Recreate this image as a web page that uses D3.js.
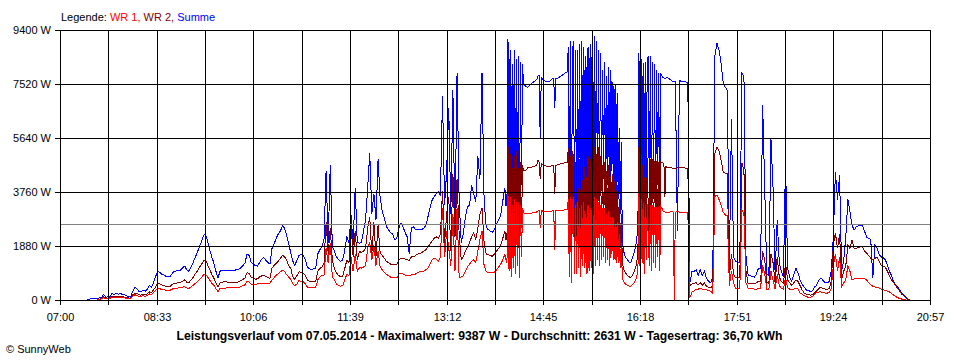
<!DOCTYPE html>
<html><head><meta charset="utf-8">
<script src="https://cdn.jsdelivr.net/npm/d3@7"></script>
<style>
html,body{margin:0;padding:0;background:#fff;}
svg{display:block;font-family:"Liberation Sans",Arial,sans-serif;}
</style></head><body>
<svg id="chart" width="960" height="360"></svg>
<script>
// ---- data ----
// 2-minute readings for the whole day
const startTime = "07:20";
const stepMinutes = 2;
const summe = [
0,0,0,0,20,50,50,60,60,70,
80,200,90,110,120,220,200,230,200,220,
200,180,150,100,110,300,450,380,300,280,
350,300,380,500,450,600,820,1010,960,900,
870,820,800,820,930,1000,1010,1040,1040,1120,
1180,1050,1000,1150,1290,1480,1640,1850,2000,2250,
2300,2050,1750,1500,1290,1000,780,1000,1040,1040,
1040,1040,1040,1040,1040,1050,1080,1120,1200,1300,
1600,1550,1300,1250,1200,1180,1300,1420,1480,1380,
1300,1250,1800,1950,2150,2300,2400,2580,2500,2250,
1950,1650,1350,1200,1400,1550,1600,1550,1400,1150,
1080,1070,1080,1100,1600,1750,1850,2100,4500,2000,
4700,1850,1700,1500,1400,1350,1400,1750,2200,2000,
2950,1900,3900,2000,1980,2000,2400,2780,3900,5100,
3000,3700,2800,4900,3550,3100,2850,2550,2450,2350,
2300,2100,2150,2500,2680,2550,2350,2200,1600,2500,
2550,2450,2450,2450,2450,2500,2600,2900,3200,3480,
3600,3700,3760,3650,7100,3300,4500,6700,3000,7300,
2600,7900,3500,2000,2300,2900,3250,3300,4000,3700,
3400,5000,4200,7900,3500,2540,2450,2400,2350,2450,
2650,2800,2950,3450,3900,3300,9100,1900,8700,2200,
8500,1700,8300,7500,7450,7400,7500,7550,7600,7650,
7800,5600,7700,7650,7600,7600,7650,7700,6700,7700,
7750,7800,7850,7900,7950,8800,1500,9000,2400,8700,
2000,9000,3000,8500,2500,8900,9387,2200,9200,3500,
8700,3800,8000,3600,7800,3400,8000,4000,7500,3500,
5500,1740,1500,1400,1300,1400,1600,1900,2500,8600,
3000,8250,2000,8400,8500,2500,8300,3000,8000,2600,
7900,7750,7700,7750,7700,7650,7600,2400,7650,7600,
7620,7600,7550,600,1000,1000,1050,850,1050,850,
1000,750,650,600,800,8500,8950,8700,8250,7590,
7410,7300,1300,6300,1500,1350,1300,1300,7900,7800,
1500,870,850,820,800,900,1110,1100,6800,3900,
900,850,5600,3900,900,2780,1300,1000,800,4870,
1100,800,650,900,1100,950,700,550,450,350,
330,300,320,450,520,680,770,680,600,590,
650,1000,2200,4460,3500,4350,1000,1400,2200,3500,
3060,2600,2440,2540,2580,2610,2610,2400,2190,2150,
2100,770,1900,1820,1600,1500,1480,1400,1220,1000,
850,630,520,450,350,240,150,80,20,0];
const wr2 = [
0,0,0,0,0,0,0,0,0,30,
60,110,60,70,80,120,110,120,110,120,
110,100,90,60,70,180,240,230,180,170,
200,180,210,280,260,350,450,600,560,520,
500,470,460,480,540,580,590,600,610,660,
700,620,590,700,780,900,1000,1130,1230,1360,
1390,1230,1060,900,760,600,460,590,620,630,
630,620,620,610,610,610,640,680,720,770,
950,920,780,760,720,740,800,840,870,820,
780,760,1110,1200,1270,1350,1450,1560,1500,1390,
1200,1100,800,720,850,980,960,940,850,700,
640,630,630,640,1000,1100,1150,1300,2700,1600,
2500,1400,1100,950,850,820,820,1100,1390,1300,
2700,1500,2400,1400,1700,1650,1700,1800,2500,2900,
1600,2700,1500,2600,1650,1550,1450,1350,1300,1250,
1250,1230,1220,1400,1460,1450,1430,1400,1380,1500,
1500,1550,1600,1620,1650,1700,1750,1850,1950,2050,
2150,2200,2150,2300,3800,2000,3000,3600,1700,4400,
2200,4200,2300,1400,1500,1700,1850,2000,2200,2330,
2100,2500,3000,3200,2000,1600,1570,1550,1520,1600,
1700,1800,1900,2150,2400,2100,5400,1200,5000,1500,
4600,900,4800,4500,4500,4600,4620,4630,4650,4680,
4870,4200,4720,4700,4650,4650,4660,4680,3700,4700,
4720,4740,4760,4780,4800,5300,900,5000,1600,5200,
1200,4800,1800,4500,1500,4900,5200,1300,5330,2000,
5330,2200,4700,2100,4500,2000,4300,2300,4200,2000,
3000,1100,950,850,800,820,950,1150,1600,5330,
1800,4980,1300,4950,3000,1400,4900,1600,4850,1500,
4800,4770,3600,4600,4600,4600,4580,4600,4600,4600,
4600,4590,4580,500,560,580,600,520,600,520,
600,470,450,420,500,5100,5330,5200,4870,4460,
4420,4400,800,1600,900,770,770,770,4770,4500,
1000,590,590,580,570,600,650,640,1700,1400,
600,580,1600,1300,600,1500,800,650,580,1300,
700,600,500,600,700,650,500,350,240,200,
180,170,180,250,320,400,450,400,380,360,
400,650,1900,2330,1800,2300,700,1000,1200,1900,
1800,2090,1800,1800,1820,1850,1850,1700,1630,1550,
1450,1400,1450,1500,1350,1200,1180,1150,1000,850,
700,600,500,400,300,200,130,70,20,0];
const wr1 = [
0,0,0,0,0,0,0,0,0,20,
40,80,40,50,60,90,80,90,80,90,
80,70,60,40,50,130,180,160,130,120,
150,130,160,210,190,260,340,410,390,370,
360,340,330,340,380,410,410,420,420,450,
460,420,400,460,510,570,630,710,770,880,
900,810,690,590,510,390,300,400,410,410,
420,420,420,430,430,440,440,460,500,530,
650,630,540,540,540,560,580,590,590,570,
560,580,700,780,860,920,980,1030,1000,880,
800,720,560,500,560,680,650,630,560,450,
440,440,440,440,700,800,870,850,1800,1300,
2000,800,700,560,500,480,500,700,900,850,
1500,1000,1600,1000,1120,1110,1150,1200,1800,2000,
1400,1900,1200,1700,1150,1050,950,900,850,800,
780,770,770,900,940,900,870,870,860,870,
880,900,960,980,980,1000,1050,1100,1250,1400,
1450,1420,1350,1500,3200,1500,2400,1800,1200,3000,
1000,3200,800,800,850,1000,1150,1250,1350,1400,
1300,1700,2100,2400,1200,980,960,950,940,970,
1050,1150,1250,1400,1600,1300,3700,800,3500,900,
3400,750,3300,3050,3000,3000,3020,3030,3050,3050,
3100,2500,3100,3080,3080,3080,3090,3100,1750,3110,
3120,3130,3130,3140,3150,3500,600,3590,900,3400,
800,3300,1100,3000,1000,3200,3500,900,3600,1200,
3400,1400,3200,1300,3000,1200,2900,1400,2600,1300,
2000,650,550,520,480,500,580,700,1000,3720,
1200,3380,900,3350,2000,1000,3300,1100,3250,1000,
3250,3100,3060,3060,3060,3070,0,3070,3060,3060,
3060,3050,3050,80,280,320,380,380,400,380,
380,350,330,300,230,3600,3660,3500,3300,3060,
2960,2950,500,1000,600,410,410,410,3130,3000,
600,410,400,390,380,380,400,400,1200,900,
380,370,1000,700,380,900,500,400,380,800,
420,380,370,380,400,380,240,200,150,110,
100,100,110,200,260,280,280,260,240,240,
260,400,1200,1600,1000,1500,450,600,700,1200,
1000,700,730,760,760,760,760,740,700,600,
520,480,450,440,420,380,350,340,300,280,
220,170,120,80,50,30,10,0,0,0];

// 1-minute readings for the turbulent afternoon (they replace the 2-minute ones there)
const denseStart = "14:08";
const denseStep = 1;
const summeDense = [
3900,3300,3300,9100,2500,8700,1900,8200,2600,8700,2200,8400,3000,8500,1700,8300,4000,8200,7500,
7480,7450,7420,7400,7450,7500,7520,7550,7570,7600,7620,7650,7700,7800,7800,5600,7750,7700,7680,7650,7620,7600,7600,7600,7620,7650,7680,7700,7700,6700,7700,7700,7720,7750,7780,7800,7820,7850,7880,7900,7920,7950,
8800,2000,9000,1500,8600,9000,2500,8700,2400,8700,3000,8900,2000,9000,3500,8800,3000,8500,2600,8800,2500,8900,3200,9387,2200,9200,3500,9000,4000,8700,3500,8600,3800,8000,4200,8300,3600,7800,4000,8100,3400,8000,4500,7600,4000,7500,3800,7200,3500,6000,3000,5500,2100,1740,
1600,1500,1450,1400,1350,1300,1300,1400,1500,1600,1750,1900,2200,2500,
8600,3000,8400,3500,8250,2000,8300,3800,8400,8500,3200,8500,2500,8300,3500,8200,3000,8000,4000,7900,2600,7900,
7800,7750,7730,7700,7720,7750,7730,7700,7680,7650,7620,7600,7600,7600];
const wr2Dense = [
2400,2100,2100,5400,1600,5100,1200,4600,1700,5000,1500,5200,1800,4600,900,4800,2500,4700,4500,
4500,4500,4550,4600,4610,4620,4620,4630,4640,4650,4660,4680,4750,4870,4800,4200,4750,4720,4710,4700,4680,4650,4650,4650,4655,4660,4670,4680,4680,3700,4690,4700,4710,4720,4730,4740,4750,4760,4770,4780,4790,4800,
5300,1300,5000,900,5200,5000,1500,4800,1600,5200,1700,4900,1200,4800,1900,5100,1800,4500,1500,5000,1500,4900,1900,5200,1300,5330,2000,5100,2300,5330,2000,5000,2200,4700,2400,4800,2100,4500,2300,4700,2000,4300,2600,4400,2300,4200,2200,4000,2000,3500,1800,3000,1300,1100,
1000,950,900,850,820,800,800,820,880,950,1050,1150,1350,1600,
5330,1800,5100,2000,4980,1300,4900,2200,4950,3000,1800,4900,1400,4900,2000,4850,1600,4850,2200,4800,1500,4800,
4780,4770,4760,3600,4650,4600,4600,4600,4600,4600,4590,4580,4590,4580];
const wr1Dense = [
1600,1400,1300,3700,1000,3600,800,3300,1100,3500,900,3400,1200,3400,750,3300,1500,3200,3050,
3000,3000,3000,3000,3010,3020,3025,3030,3040,3050,3050,3050,3080,3100,3100,2500,3100,3100,3090,3080,3080,3080,3080,3080,3085,3090,3095,3100,3100,1750,3105,3110,3115,3120,3125,3130,3130,3130,3135,3140,3145,3150,
3500,800,3600,600,3400,3590,900,3300,900,3400,1100,3200,800,3300,1200,3400,1100,3000,900,3300,1000,3200,1100,3500,900,3600,1200,3500,1400,3400,1200,3300,1400,3200,1500,3200,1300,3000,1400,3100,1200,2900,1600,2900,1400,2600,1300,2700,1300,2300,1100,2000,800,650,
600,550,530,520,500,480,480,500,540,580,640,700,850,1000,
3720,1200,3500,1300,3380,900,3300,1400,3350,2000,1200,3300,1000,3300,1300,3250,1100,3250,1500,3250,1000,3250,
3200,3100,3080,3060,3060,3060,3060,3060,3065,3070,3070,3060,0,3060];

const yTicks = [0, 1880, 3760, 5640, 7520, 9400];
const xTickLabels = ["07:00","08:33","10:06","11:39","13:12","14:45","16:18","17:51","19:24","20:57"];
const average = 2631;
const legendLabels = ["WR 1,", "WR 2,", "Summe"];
const titleText = "Leistungsverlauf vom 07.05.2014 - Maximalwert: 9387 W - Durchschnitt: 2631 W - Tagesertrag: 36,70 kWh";

// ---- drawing ----
const svg = d3.select("#chart");
const parse = d3.timeParse("%H:%M");
const tStart = parse(xTickLabels[0]), tEnd = parse(xTickLabels[xTickLabels.length-1]);
const x = d3.scaleTime().domain([tStart, tEnd]).range([60, 930]);
const y = d3.scaleLinear().domain([0, 9400]).range([300, 30]);
const t0 = parse(startTime), d0 = parse(denseStart);

function buildSeries(coarse, dense) {
  const d1 = d3.timeMinute.offset(d0, (dense.length - 1) * denseStep);
  const a = coarse.map((v,i) => ({t: d3.timeMinute.offset(t0, i*stepMinutes), v}))
    .filter(p => p.t < d0 || p.t > d1);
  const b = dense.map((v,i) => ({t: d3.timeMinute.offset(d0, i*denseStep), v}));
  return a.concat(b).sort((p,q) => p.t - q.t);
}
const line = d3.line().x(d => x(d.t)).y(d => y(d.v));

const series = [
  {data: buildSeries(summe, summeDense), color: "#0000ff"},
  {data: buildSeries(wr2, wr2Dense), color: "#800000"},
  {data: buildSeries(wr1, wr1Dense), color: "#ff0000"}
];
series.forEach(s => {
  svg.append("path").attr("d", line(s.data))
    .attr("fill","none").attr("stroke", s.color).attr("stroke-width",1)
    .attr("shape-rendering","crispEdges");
});

// grid (drawn above data like the original)
const px = v => Math.round(v) + 0.5;
const tickTimes = xTickLabels.map(parse);
const gridTimes = [];
tickTimes.forEach((t,i) => {
  gridTimes.push(t);
  if (i < tickTimes.length-1) gridTimes.push(new Date((t.getTime()+tickTimes[i+1].getTime())/2));
});
const g = svg.append("g").attr("shape-rendering","crispEdges");
gridTimes.forEach(t => {
  g.append("line").attr("x1", px(x(t))).attr("x2", px(x(t)))
    .attr("y1", 30).attr("y2", 305).attr("stroke","#000");
});
yTicks.forEach(v => {
  g.append("line").attr("x1", 55).attr("x2", 931)
    .attr("y1", px(y(v))).attr("y2", px(y(v))).attr("stroke","#000");
});
g.append("line").attr("x1", 61).attr("x2", 930)
  .attr("y1", px(y(average))).attr("y2", px(y(average))).attr("stroke","#808080");

// axis labels
svg.selectAll("text.yl").data(yTicks).enter().append("text")
  .attr("x", 51).attr("y", d => Math.round(y(d)) + 4)
  .attr("text-anchor","end").attr("font-size","11px").text(d => d + " W");
svg.selectAll("text.xl").data(xTickLabels).enter().append("text")
  .attr("x", d => Math.round(x(parse(d))) + 0.5).attr("y", 321)
  .attr("text-anchor","middle").attr("font-size","11px").text(d => d);

// legend
const legendColors = ["#ff0000", "#800000", "#0000ff"];
const lg = svg.append("text").attr("x", 61).attr("y", 21).attr("font-size","11px");
lg.append("tspan").attr("fill","#000").text("Legende: ");
legendLabels.forEach((l,i) => {
  lg.append("tspan").attr("fill", legendColors[i]).text(l + (i < legendLabels.length-1 ? " " : ""));
});

// title + footer
svg.append("text").attr("x", 479.5).attr("y", 340).attr("text-anchor","middle")
  .attr("font-size","12.2px").attr("font-weight","bold").text(titleText);
svg.append("text").attr("x", 6).attr("y", 353).attr("font-size","11px").text("\u00A9 SunnyWeb");
</script>
</body></html>
